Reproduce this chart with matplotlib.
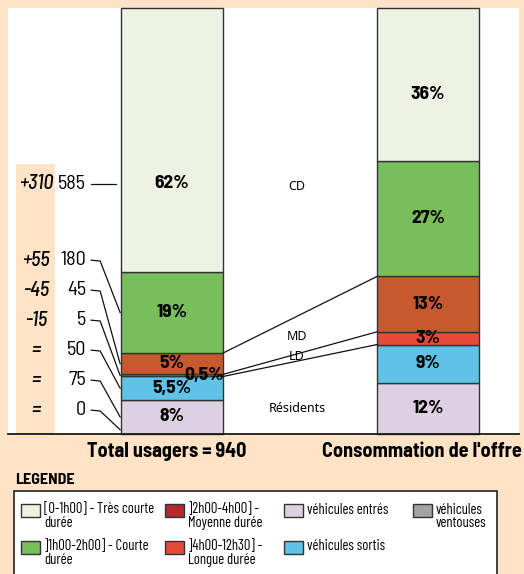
import matplotlib.pyplot as plt
from matplotlib.patches import Rectangle

# segments de bas en haut
segments = ['véhicules entrés', 'véhicules sortis', 'LD', 'MD', 'CD', 'TCD']
usagers = [8, 5.5, 0.5, 5, 19, 62]
offre = [12, 9, 3, 13, 27, 36]

# effectifs et évolutions (de bas en haut), 0 = véhicules ventouses
effectifs = ['0', '75', '50', '5', '45', '180', '585']
evolutions = ['=', '=', '=', '-15', '-45', '+55', '+310']

zones = ['Résidents', 'LD', 'MD', 'CD']
titres = ['Total usagers = 940', "Consommation de l'offre"]

legende = ['[0-1h00] - Très courte\ndurée', ']1h00-2h00] - Courte\ndurée',
           ']2h00-4h00] -\nMoyenne durée', ']4h00-12h30] -\nLongue durée',
           'véhicules entrés', 'véhicules sortis', 'véhicules\nventouses']

peche = '#FEE3C6'
c_tcd = '#EEF2E3'
c_cd = '#78BE5A'
c_md = '#C65A2E'
c_ld = '#E84A3A'
c_sortis = '#5FC3E7'
c_entres = '#DDD0E3'
c_md_leg = '#B5282E'
c_vent = '#A3A3A3'
couleurs = [c_entres, c_sortis, c_ld, c_md, c_cd, c_tcd]
couleurs_leg = [c_tcd, c_cd, c_md_leg, c_ld, c_entres, c_sortis, c_vent]

narrow = ['Barlow Condensed', 'DejaVu Sans']
semi = ['Barlow Semi Condensed', 'Barlow Condensed', 'DejaVu Sans']
W, H = 524, 574

fig = plt.figure(figsize=(W / 100, H / 100), dpi=100, facecolor=peche)

# fond en coordonnees pixels
bg = fig.add_axes([0, 0, 1, 1])
bg.set_xlim(0, W)
bg.set_ylim(H, 0)
bg.axis('off')
bg.add_patch(Rectangle((8, 8), 511, 426, fc='white', ec='none'))
bg.add_patch(Rectangle((16, 164), 39, 270, fc=peche, ec='none'))

ax = fig.add_axes([8 / W, (H - 434) / H, 511 / W, 426 / H])
ax.set_facecolor('none')
ax.set_xlim(-0.641, 1.355)
ax.set_ylim(0, 100)
ax.axis('off')

larg = 0.398
for xb, vals in [(0, usagers), (1, offre)]:
    bas = 0
    for i, v in enumerate(vals):
        ax.bar(xb, v, bottom=bas, width=larg, color=couleurs[i],
               edgecolor='#333333', linewidth=1, clip_on=False)
        bas += v

def cumul(vals):
    out = [0]
    for v in vals:
        out.append(out[-1] + v)
    return out

cu = cumul(usagers)
co = cumul(offre)

# traits de liaison entre les deux barres
for k in (2, 3, 4):
    ax.plot([larg / 2, 1 - larg / 2], [cu[k], co[k]], color='#111111', lw=0.9)

def pct(v):
    return f'{v:g}%'.replace('.', ',')

rangs = [5.6 + 7.04 * i for i in range(6)] + [58.7]
y_haut = {0: rangs[-1], 1: 79.6}

for xb, vals, cum in [(0, usagers, cu), (1, offre, co)]:
    for i, v in enumerate(vals):
        y = (cum[i] + cum[i + 1]) / 2
        if i == len(vals) - 1:
            y = y_haut[xb]
        dx = 0.125 if v < 1 else 0
        ax.text(xb + dx, y, pct(v), ha='center', va='center',
                family=semi, fontweight='bold', fontsize=14)

zones_y = [6.1, 18.1, 23.0, 58.0]
for z, y in zip(zones, zones_y):
    ax.text(0.488, y, z, ha='center', va='center', family='Noto Sans',
            fontsize=9)

# effectifs a gauche avec renvois vers la barre
for i, (n, e) in enumerate(zip(effectifs, evolutions)):
    y = rangs[i]
    ax.text(-0.336, y, n, ha='right', va='center', family=semi, fontsize=14.5)
    ax.text(-0.531, y, e, ha='center', va='center', family=semi,
            fontstyle='italic', fontweight='medium', fontsize=14.5)
    if i == len(effectifs) - 1:
        ax.plot([-0.316, -0.219], [y, y], color='#111111', lw=0.9)
    else:
        cible = 1 if i == 0 else (cu[i - 1] + cu[i]) / 2
        ax.plot([-0.316, -0.281, -0.203], [y, y - 0.2, cible],
                color='#111111', lw=0.9, clip_on=False)

ax.axhline(0, color='#1a1a1a', lw=1.3, clip_on=False)

ax.text(-0.02, -4.2, titres[0], ha='center', va='center',
        family=semi, fontweight='bold', fontsize=14.5)
ax.text(1.366, -4.2, titres[1], ha='right', va='center',
        family=semi, fontweight='bold', fontsize=14.5)

# legende
bg.text(15, 480, 'LEGENDE', ha='left', va='center', family=semi,
        fontweight='bold', fontsize=11.5)
bg.add_patch(Rectangle((14, 491), 483, 90, fc='white', ec='#222222', lw=1.2))
col_x = [21, 165, 284, 413]
lig_y = [504, 541]
for j, (lab, c) in enumerate(zip(legende, couleurs_leg)):
    x0 = col_x[j // 2]
    y0 = lig_y[j % 2]
    bg.add_patch(Rectangle((x0, y0), 19, 13, fc=c, ec='#333333', lw=1))
    bg.text(x0 + 23, y0 - 1.5, lab, ha='left', va='top', family=narrow,
            fontsize=10.5, linespacing=0.95)

fig.savefig('out.png', dpi=100, facecolor=peche)
